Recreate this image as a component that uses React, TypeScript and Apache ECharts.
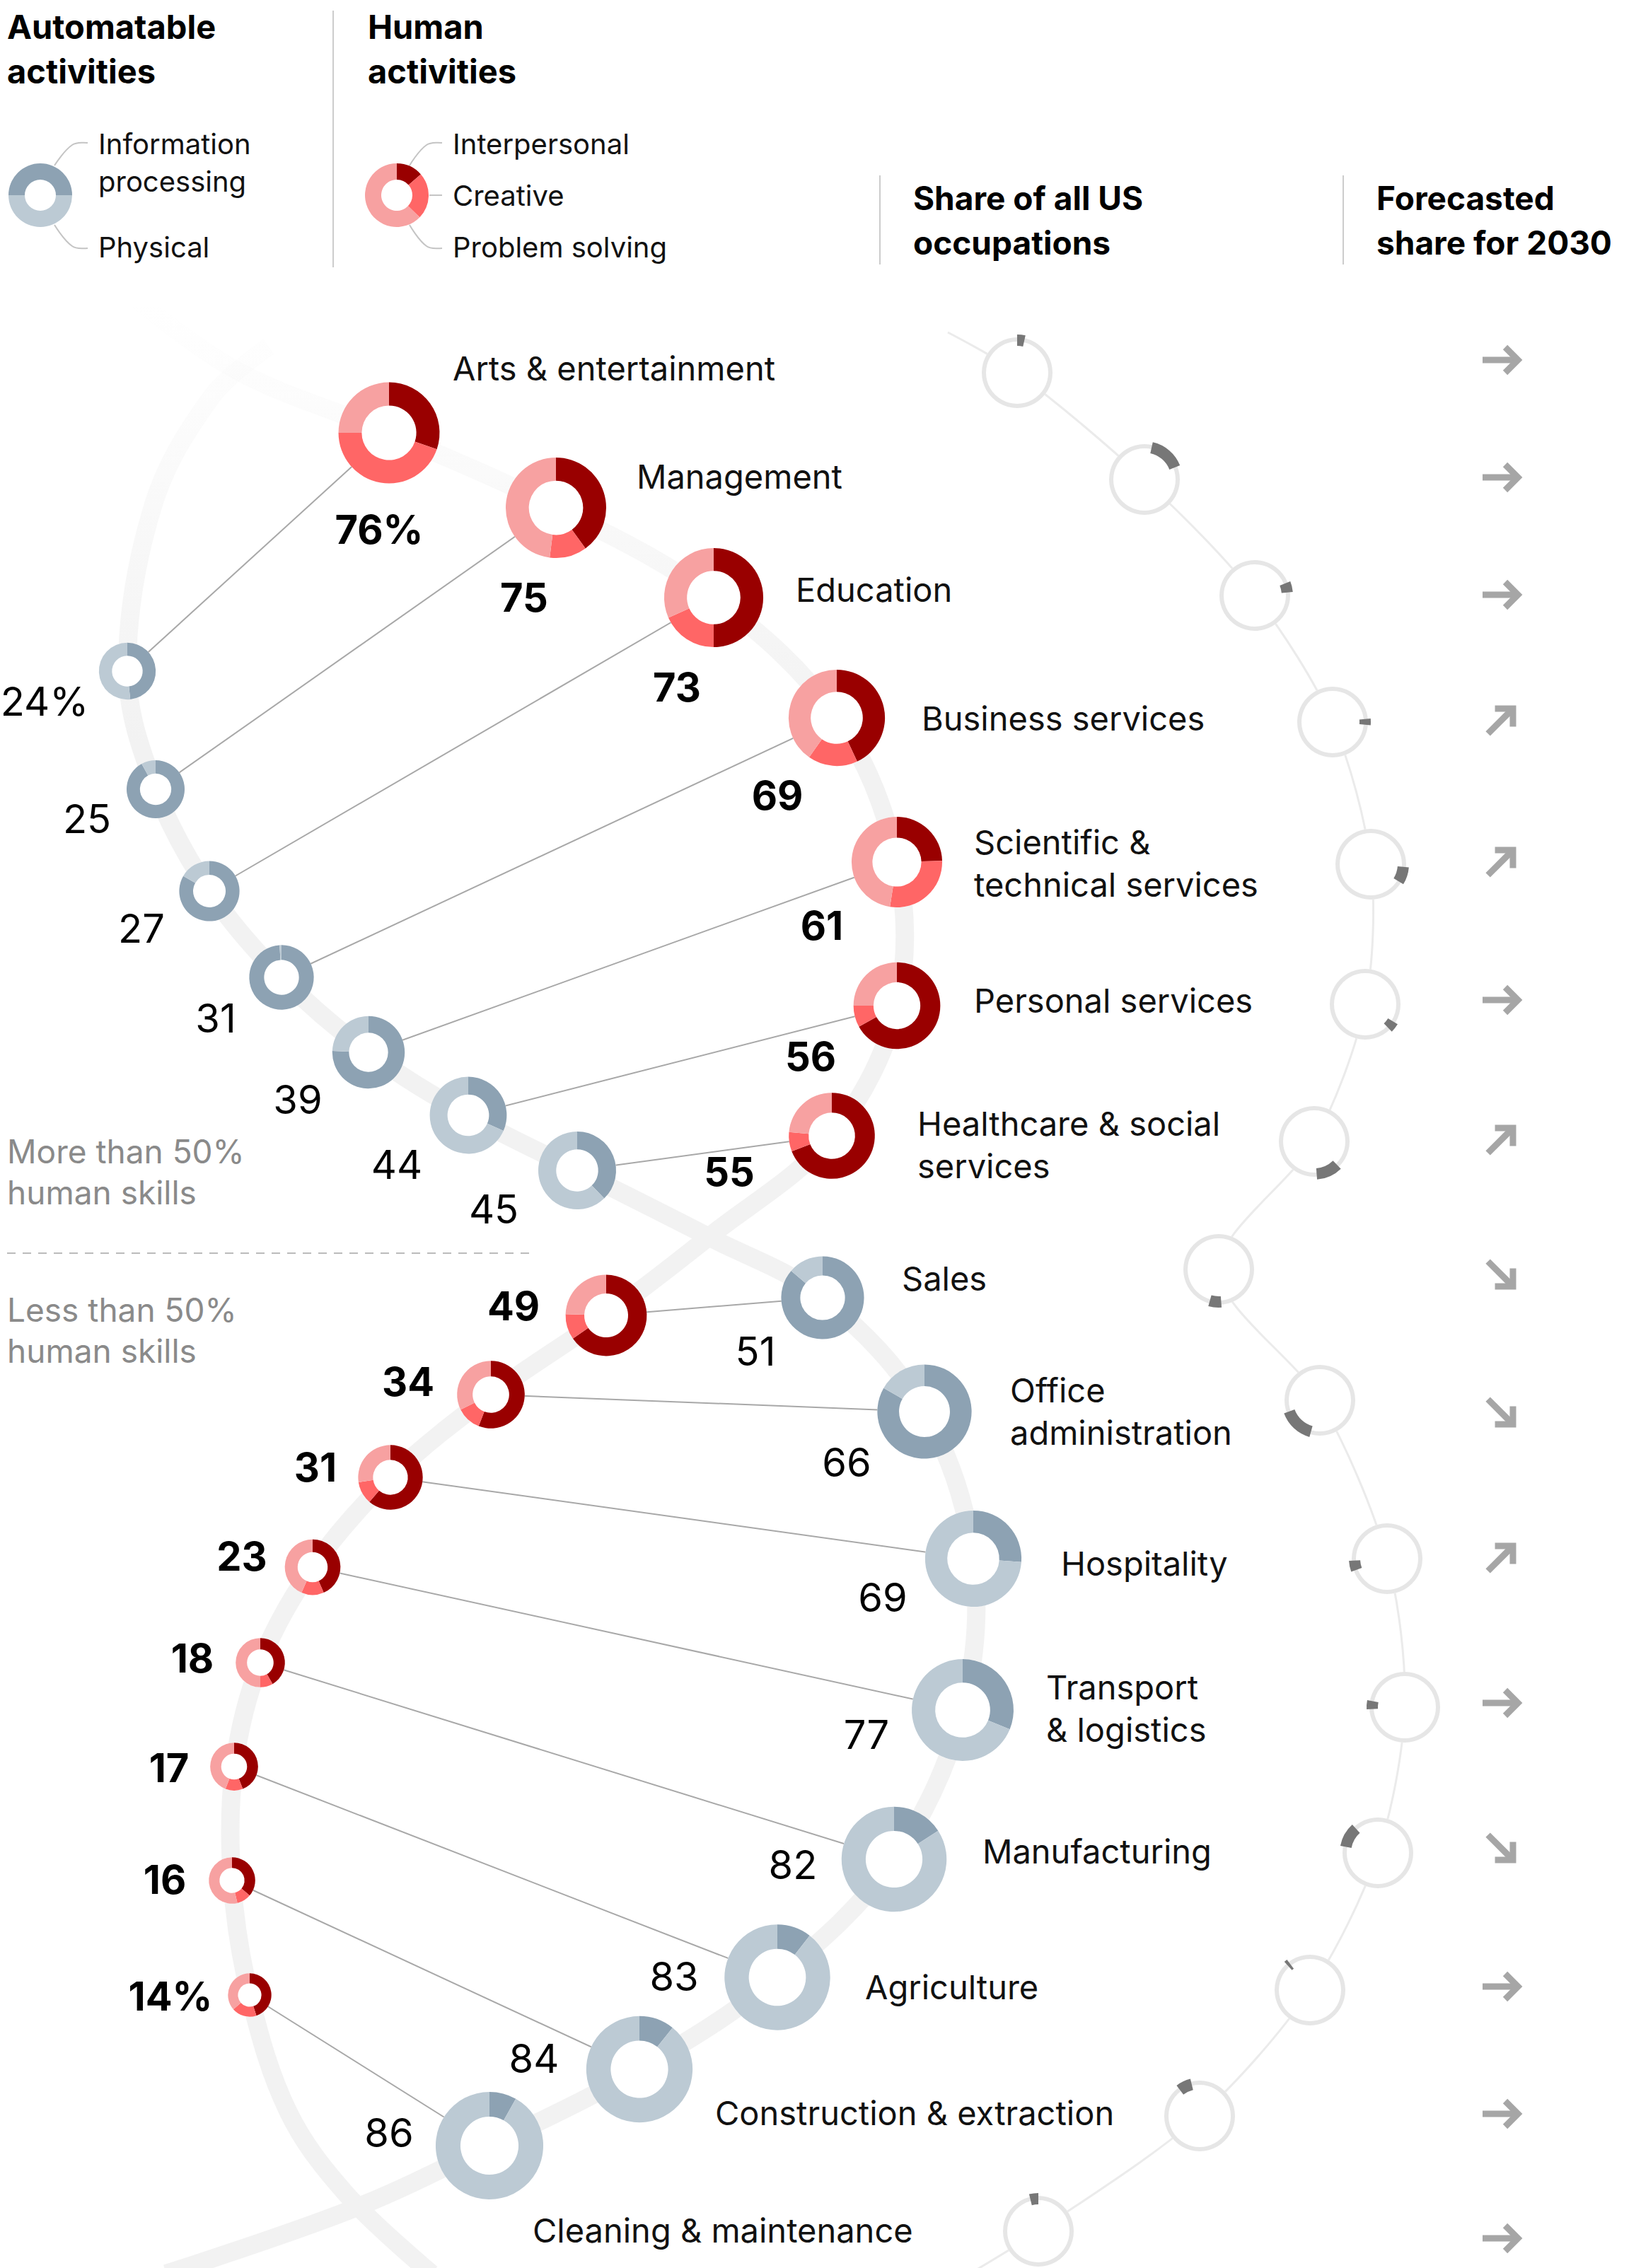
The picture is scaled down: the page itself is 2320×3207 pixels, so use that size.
import React, { useEffect, useRef } from "react";
import * as echarts from "echarts";

// ---------------- DATA ----------------
const occupationLabels = [
  "Arts & entertainment",
  "Management",
  "Education",
  "Business services",
  "Scientific &\ntechnical services",
  "Personal services",
  "Healthcare & social\nservices",
  "Sales",
  "Office\nadministration",
  "Hospitality",
  "Transport\n& logistics",
  "Manufacturing",
  "Agriculture",
  "Construction & extraction",
  "Cleaning & maintenance",
];
// Human activities (share of time, %), split by type
const humanShare = [76, 75, 73, 69, 61, 56, 55, 49, 34, 31, 23, 18, 17, 16, 14];
const interpersonal = [23, 30, 36.5, 29.7, 15, 37.5, 38, 32, 19, 19, 10, 7.5, 7.5, 5.8, 6.3];
const creative = [34, 9, 13.4, 11.5, 17, 4.5, 4, 5, 4, 3.5, 3, 1.5, 2, 1.6, 2.6];
const problemSolving = [19, 36, 23.1, 27.8, 29, 14, 13, 12, 11, 8.5, 10, 9, 7.5, 8.6, 5.1];
// Automatable activities (%), split by type
const autoShare = [24, 25, 27, 31, 39, 44, 45, 51, 66, 69, 77, 82, 83, 84, 86];
const infoProcessing = [11.6, 23, 22.5, 30.7, 29.5, 13.9, 17, 44, 55, 18, 24, 13, 8.7, 9, 7];
const physical = [12.4, 2, 4.5, 0.3, 9.5, 30.1, 28, 7, 11, 51, 53, 69, 74.3, 75, 79];
// Share of all US occupations (%)
const usShare = [3.5, 15.5, 4.5, 2.8, 7.5, 3.9, 11.1, 5.6, 15.0, 4.7, 3.9, 10.3, 1.4, 6.4, 3.9];
// Forecasted share for 2030
const trend = ["flat", "flat", "flat", "up", "up", "flat", "up", "down", "down", "up", "flat", "down", "flat", "flat", "flat"];

// ---------------- LAYOUT ----------------
const W = 2320;
const H = 3207;
const FONT = "Inter, Roboto, 'Noto Sans', sans-serif";
const RED_COLORS = ["#990000", "#FF6666", "#F7A1A1"];
const GRAY_COLORS = ["#8DA2B3", "#BCCAD4"];
const K = 8.2; // outer radius per sqrt(%)
const HOLE = 0.54;

const redPos = [[550, 612], [786, 718], [1009, 845], [1183, 1015], [1268, 1219], [1268, 1422], [1176, 1606], [857, 1860], [694, 1972], [552, 2089], [442, 2216], [368, 2351], [331, 2498], [328, 2659], [353, 2821]];
const grayPos = [[180, 949], [220, 1116], [296, 1260], [398, 1382], [521, 1488], [662, 1577], [816, 1655], [1163, 1835], [1307, 1996], [1376, 2204], [1361, 2418], [1264, 2629], [1099, 2796], [904, 2926], [692, 3034]];
const sharePos = [[1438, 527], [1618, 678], [1774, 842], [1884, 1021], [1938, 1222], [1930, 1420], [1858, 1614], [1723, 1795], [1866, 1980], [1961, 2204], [1986, 2414], [1948, 2620], [1852, 2814], [1696, 2992], [1468, 3155]];
const arrowY = [509, 675, 841, 1019, 1219, 1414, 1612, 1802, 1997, 2203, 2408, 2613, 2809, 2989, 3165];
const labelPos = [[640, 520], [900, 673], [1125, 833], [1303, 1015], [1377, 1220], [1377, 1414], [1297, 1618], [1275, 1807], [1428, 1995], [1500, 2210], [1479, 2415], [1389, 2617], [1223, 2809], [1011, 2987], [753, 3153]];
const redNumPos = [[536, 749], [741, 845], [957, 972], [1099, 1125], [1162, 1309], [1146, 1494], [1031, 1657], [726, 1847], [577, 1954], [446, 2075], [342, 2201], [272, 2345], [239, 2500], [233, 2658], [241, 2823]];
const grayNumPos = [[63, 992], [123, 1158], [200, 1313], [305, 1440], [421, 1555], [561, 1647], [698, 1710], [1068, 1911], [1197, 2068], [1248, 2259], [1225, 2453], [1121, 2637], [953, 2795], [755, 2911], [550, 3016]];

const redBandPts = [[170, 405], [333, 523], [550, 612], [786, 718], [1009, 845], [1183, 1015], [1268, 1219], [1268, 1422], [1176, 1606], [1002, 1749], [857, 1860], [694, 1972], [552, 2089], [442, 2216], [368, 2351], [331, 2498], [328, 2659], [353, 2821], [408, 2987], [490, 3103], [610, 3215]];
const grayBandPts = [[380, 490], [300, 560], [217, 713], [180, 949], [220, 1116], [296, 1260], [398, 1382], [521, 1488], [662, 1577], [816, 1655], [1002, 1749], [1163, 1835], [1307, 1996], [1376, 2204], [1361, 2418], [1264, 2629], [1099, 2796], [904, 2926], [692, 3034], [500, 3123], [235, 3215]];
const shareLinePts = [[1340, 470], ...sharePos, [1371, 3215]];

function pie(center: number[], radius: number[], values: number[], colors: string[], startAngle = 90, z = 5) {
  return {
    type: "pie",
    center,
    radius,
    startAngle,
    clockwise: true,
    silent: true,
    z,
    animation: false,
    avoidLabelOverlap: false,
    label: { show: false },
    labelLine: { show: false },
    emphasis: { disabled: true },
    itemStyle: { borderWidth: 0 },
    data: values.map((v, i) => ({ value: v, itemStyle: { color: colors[i] } })),
  };
}

function txt(x: number, y: number, t: string, size: number, o: any = {}) {
  return {
    type: "text",
    x,
    y,
    z: 10,
    silent: true,
    style: {
      text: t,
      fill: o.fill || "#111",
      fontSize: size,
      fontFamily: FONT,
      fontWeight: o.weight || "normal",
      textAlign: o.align || "left",
      align: o.align || "left",
      textVerticalAlign: "middle",
      verticalAlign: "middle",
      lineHeight: o.lh || Math.round(size * 1.3),
    },
  };
}

function buildOption() {
  const series: any[] = [];
  const el: any[] = [];
  const bandGrad = {
    type: "linear", x: 0, y: 430, x2: 0, y2: 1050, global: true,
    colorStops: [
      { offset: 0, color: "rgba(242,242,242,0)" },
      { offset: 1, color: "rgba(242,242,242,1)" },
    ],
  };
  // helix bands
  [grayBandPts, redBandPts].forEach((pts) => {
    el.push({ type: "polyline", z: 1, silent: true, shape: { points: pts, smooth: 0.35 }, style: { stroke: bandGrad, lineWidth: 26, fill: null } });
  });
  // share connector line
  el.push({ type: "polyline", z: 2, silent: true, shape: { points: shareLinePts, smooth: 0.3 }, style: { stroke: "#ebebeb", lineWidth: 3, fill: null } });

  let cum = 0;
  const n = humanShare.length;
  humanShare.forEach((h, i) => {
    const a = autoShare[i];
    const rR = K * Math.sqrt(h);
    const rG = K * Math.sqrt(a);
    // connector red <-> gray
    el.push({ type: "line", z: 2, silent: true, shape: { x1: redPos[i][0], y1: redPos[i][1], x2: grayPos[i][0], y2: grayPos[i][1] }, style: { stroke: "#a8a8a8", lineWidth: 2 } });
    // white discs
    el.push({ type: "circle", z: 3, silent: true, shape: { cx: redPos[i][0], cy: redPos[i][1], r: rR }, style: { fill: "#fff" } });
    el.push({ type: "circle", z: 3, silent: true, shape: { cx: grayPos[i][0], cy: grayPos[i][1], r: rG }, style: { fill: "#fff" } });
    el.push({ type: "circle", z: 3, silent: true, shape: { cx: sharePos[i][0], cy: sharePos[i][1], r: 50 }, style: { fill: "#fff" } });
    // donuts
    series.push(pie(redPos[i], [rR * HOLE, rR], [interpersonal[i], creative[i], problemSolving[i]], RED_COLORS));
    series.push(pie(grayPos[i], [rG * HOLE, rG], [infoProcessing[i], physical[i]], GRAY_COLORS));
    // share ring
    series.push(pie(sharePos[i], [44, 50], [100], ["#e6e6e6"]));
    series.push(pie(sharePos[i], [38, 54], [cum, usShare[i], Math.max(0, 100 - cum - usShare[i])], ["rgba(0,0,0,0)", "#777777", "rgba(0,0,0,0)"], 90, 6));
    cum += usShare[i];
    // numbers
    el.push(txt(redNumPos[i][0], redNumPos[i][1], `${h}${i === 0 || i === n - 1 ? "%" : ""}`, 56, { weight: "bold", align: "center", fill: "#000" }));
    el.push(txt(grayNumPos[i][0], grayNumPos[i][1], `${a}${i === 0 ? "%" : ""}`, 56, { align: "center", fill: "#000" }));
    // occupation labels
    el.push(txt(labelPos[i][0], labelPos[i][1], occupationLabels[i], 47, { lh: 60 }));
    // trend arrows
    const rot = trend[i] === "up" ? Math.PI / 4 : trend[i] === "down" ? -Math.PI / 4 : 0;
    el.push({
      type: "group", x: 2122, y: arrowY[i], rotation: rot, z: 6, silent: true,
      children: [
        { type: "line", shape: { x1: -26, y1: 0, x2: 22, y2: 0 }, style: { stroke: "#a6a6a6", lineWidth: 9 } },
        { type: "polyline", shape: { points: [[6, -18], [24, 0], [6, 18]] }, style: { stroke: "#a6a6a6", lineWidth: 9, fill: null, lineJoin: "miter" } },
      ],
    });
  });

  // ---- header / legend ----
  el.push(txt(10, 37, "Automatable", 47, { weight: "bold", fill: "#000" }));
  el.push(txt(10, 100, "activities", 47, { weight: "bold", fill: "#000" }));
  el.push(txt(520, 37, "Human", 47, { weight: "bold", fill: "#000" }));
  el.push(txt(520, 100, "activities", 47, { weight: "bold", fill: "#000" }));
  el.push({ type: "line", z: 2, silent: true, shape: { x1: 471, y1: 15, x2: 471, y2: 378 }, style: { stroke: "#cccccc", lineWidth: 2 } });
  el.push(txt(1291, 280, "Share of all US", 46, { weight: "bold", fill: "#000" }));
  el.push(txt(1291, 343, "occupations", 46, { weight: "bold", fill: "#000" }));
  el.push({ type: "line", z: 2, silent: true, shape: { x1: 1244, y1: 248, x2: 1244, y2: 374 }, style: { stroke: "#cccccc", lineWidth: 2 } });
  el.push(txt(1946, 280, "Forecasted", 46, { weight: "bold", fill: "#000" }));
  el.push(txt(1946, 343, "share for 2030", 46, { weight: "bold", fill: "#000" }));
  el.push({ type: "line", z: 2, silent: true, shape: { x1: 1899, y1: 248, x2: 1899, y2: 374 }, style: { stroke: "#cccccc", lineWidth: 2 } });

  // legend donuts
  series.push(pie([57, 276], [22, 45], [50, 50], GRAY_COLORS, 180));
  series.push(pie([561, 276], [22, 45], [49, 85, 226], RED_COLORS, 90));
  const leader = (pts: number[][]) => ({ type: "polyline", z: 2, silent: true, shape: { points: pts, smooth: 0.4 }, style: { stroke: "#c4c4c4", lineWidth: 2, fill: null } });
  el.push(leader([[77, 234], [102, 205], [124, 202]]));
  el.push(leader([[77, 318], [102, 348], [124, 351]]));
  el.push(leader([[579, 234], [603, 205], [625, 202]]));
  el.push(leader([[607, 276], [625, 276]]));
  el.push(leader([[579, 318], [603, 348], [625, 351]]));
  el.push(txt(139, 203, "Information", 40));
  el.push(txt(139, 256, "processing", 40));
  el.push(txt(139, 349, "Physical", 40));
  el.push(txt(640, 203, "Interpersonal", 40));
  el.push(txt(640, 276, "Creative", 40));
  el.push(txt(640, 349, "Problem solving", 40));

  // threshold annotation
  el.push(txt(10, 1657, "More than 50%\nhuman skills", 46, { fill: "#8a8a8a", lh: 58 }));
  el.push({ type: "line", z: 2, silent: true, shape: { x1: 10, y1: 1772, x2: 757, y2: 1772 }, style: { stroke: "#bbbbbb", lineWidth: 2, lineDash: [12, 10] } });
  el.push(txt(10, 1881, "Less than 50%\nhuman skills", 46, { fill: "#8a8a8a", lh: 58 }));

  return {
    animation: false,
    backgroundColor: "#ffffff",
    series,
    graphic: { elements: el },
  };
}

export default function App() {
  const ref = useRef<HTMLDivElement>(null);
  useEffect(() => {
    document.body.style.margin = "0";
    const chart = echarts.init(ref.current as HTMLDivElement, null, { renderer: "svg", width: W, height: H });
    chart.setOption(buildOption() as any);
    return () => chart.dispose();
  }, []);
  return <div ref={ref} style={{ width: W, height: H, background: "#fff" }} />;
}
